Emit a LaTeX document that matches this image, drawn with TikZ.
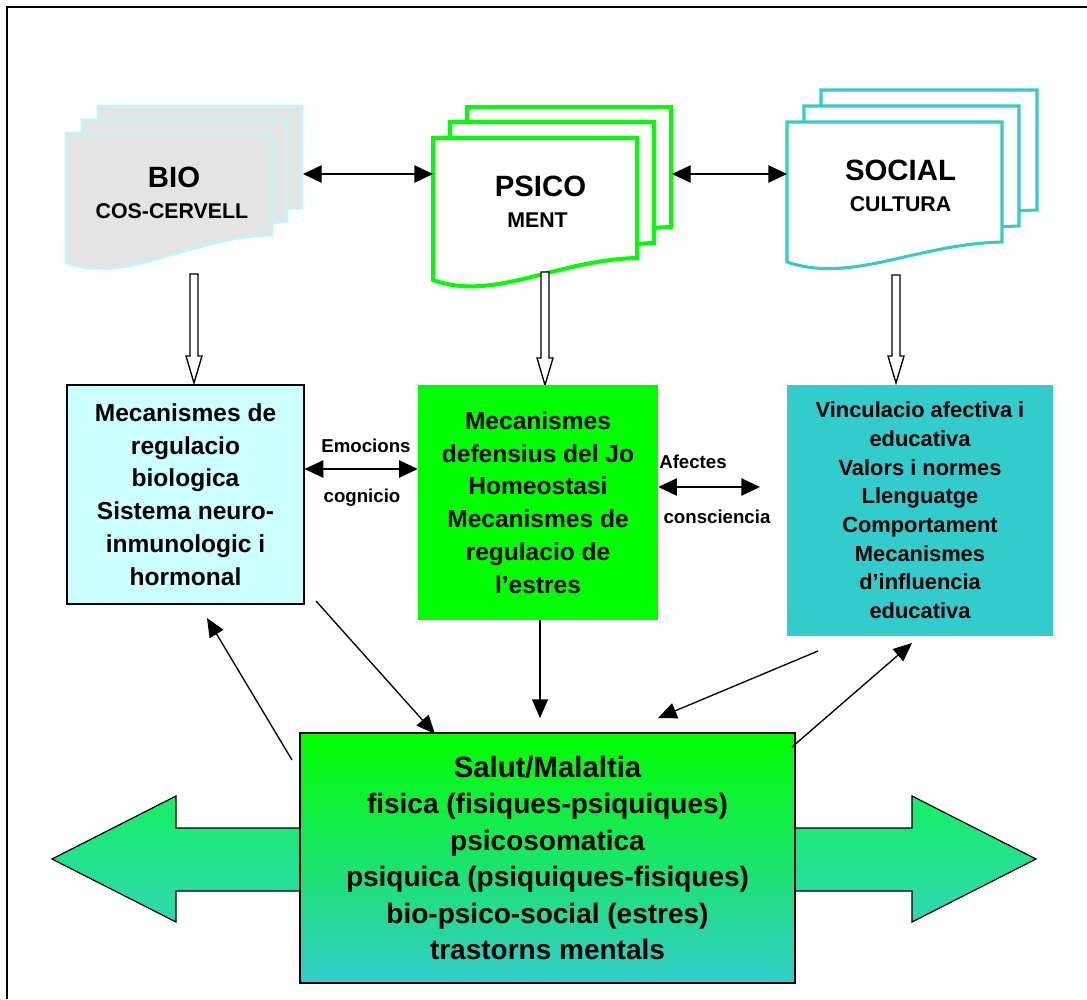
\documentclass[tikz,border=0pt]{standalone}
\usepackage{fontspec}
\setmainfont{Liberation Sans}
\usetikzlibrary{arrows.meta,shadings}

\definecolor{psigreen}{HTML}{00FF00}
\definecolor{socteal}{HTML}{33CCCC}
\definecolor{biocyan}{HTML}{CCFFFF}
\definecolor{biogray}{HTML}{E4E4E4}
\definecolor{bioedge}{HTML}{C2F6F6}
\definecolor{bandtop}{HTML}{16F064}
\definecolor{bandbot}{HTML}{2FD6B4}

% stacked "document" sheet: x0, y0 (top), x1, bottom-left y, bottom-right y, style
\newcommand\docshape[6]{%
  \filldraw[#6] (#1,#2) -- (#3,#2) -- (#3,#5)
    .. controls ({#3-0.4*(#3-#1)},{#5+2}) and ({#1+0.3*(#3-#1)},{#4+22}) .. (#1,#4) -- cycle;}

% hollow block arrow pointing down: x, top y, tip y
\newcommand\hollowdown[3]{%
  \draw[hollow] ({#1-4},#2) -- ({#1+4},#2) -- ({#1+4},{#3-27}) -- ({#1+8},{#3-27})
    -- (#1,#3) -- ({#1-8},{#3-27}) -- ({#1-4},{#3-27}) -- cycle;}

\begin{document}
\begin{tikzpicture}[
  x=0.75pt, y=-0.75pt,
  link/.style={line width=1pt, -{Triangle[length=14pt,width=12pt]}},
  bilink/.style={line width=1pt, {Triangle[length=14pt,width=13pt]}-{Triangle[length=14pt,width=13pt]}},
  hollow/.style={draw=black, fill=white, line width=1pt},
  bigtitle/.style={font=\bfseries\fontsize{22pt}{26pt}\selectfont, anchor=base, inner sep=0pt},
  subtitle/.style={font=\bfseries\fontsize{16pt}{19pt}\selectfont, anchor=base, inner sep=0pt},
  regbox/.style={inner sep=0pt, align=center, font=\bfseries\fontsize{18.4pt}{24.6pt}\selectfont},
  lbl/.style={font=\bfseries\fontsize{14pt}{16pt}\selectfont, inner sep=0pt},
]
\useasboundingbox (0,0) rectangle (1087,999);

% outer frame
\draw[line width=1.6pt] (7,999) -- (7,7) -- (1087,7);

% BIO stack
\docshape{98}{106}{302}{236}{208}{draw=bioedge, fill=biogray, line width=2pt}
\docshape{82}{120}{287}{250}{222}{draw=bioedge, fill=biogray, line width=2pt}
\docshape{66}{133}{272}{263}{235}{draw=bioedge, fill=biogray, line width=2pt}
\node[bigtitle] (bio) at (174,187) {BIO};
\node[subtitle] (biosub) at (172,218) {COS-CERVELL};

% PSICO stack
\docshape{467}{107}{671}{249}{227}{draw=psigreen, fill=white, line width=3pt}
\docshape{450}{122}{654}{265}{243}{draw=psigreen, fill=white, line width=3pt}
\docshape{433}{138}{637}{280}{258}{draw=psigreen, fill=white, line width=3pt}
\node[bigtitle] (psico) at (540.5,196) {PSICO};
\node[subtitle] (psicosub) at (537.5,227) {MENT};

% SOCIAL stack
\docshape{821}{90}{1037}{230}{210}{draw=socteal, fill=white, line width=2.3pt}
\docshape{804}{106}{1019}{246}{226}{draw=socteal, fill=white, line width=2.3pt}
\docshape{787}{122}{1002}{262}{242}{draw=socteal, fill=white, line width=2.3pt}
\node[bigtitle] (social) at (900.5,180) {SOCIAL};
\node[subtitle] (socialsub) at (900.5,211) {CULTURA};

% links between the three spheres
\coordinate (bioR) at (303,174);
\coordinate (psiL) at (433,174);
\coordinate (psiR) at (672,174);
\coordinate (socL) at (787,174);
\draw[bilink] (bioR) -- (psiL);
\draw[bilink] (psiR) -- (socL);

% hollow arrows down to the mechanisms
\hollowdown{194}{274}{383}
\hollowdown{545}{272}{385}
\hollowdown{896}{275}{383}

% mechanism boxes
\node[regbox, draw=black, line width=0.9pt, fill=biocyan,
      minimum width=177.75pt, minimum height=164.25pt] (bioreg) at (185.5,494.5)
  {Mecanismes de\\regulacio\\biologica\\Sistema neuro-\\inmunologic i\\hormonal};
\node[regbox, fill=psigreen,
      minimum width=180pt, minimum height=176.25pt] (psireg) at (538,502.5)
  {Mecanismes\\defensius del Jo\\Homeostasi\\Mecanismes de\\regulacio de\\l’estres};
\node[regbox, fill=socteal, font=\bfseries\fontsize{16.4pt}{21.5pt}\selectfont,
      minimum width=199.5pt, minimum height=188.25pt] (socreg) at (920,510.5)
  {Vinculacio afectiva i\\educativa\\Valors i normes\\Llenguatge\\Comportament\\Mecanismes\\d’influencia\\educativa};

% side links with labels
\coordinate (emoY) at (0,469);
\coordinate (affY) at (0,487);
\coordinate (affEnd) at (760,487);
\draw[bilink] (bioreg.east |- emoY) -- (psireg.west |- emoY);
\draw[bilink] (psireg.east |- affY) -- (affEnd);
\node[lbl] (emo) at (366,446) {Emocions};
\node[lbl] (cog) at (362,498) {cognicio};
\node[lbl] (afe) at (693,462) {Afectes};
\node[lbl] (con) at (717,517) {consciencia};

% broad two-way band behind the health box
\shade[top color=bandtop, bottom color=bandbot, draw=black, line width=0.9pt]
  (52,859) -- (176,796) -- (176,828) -- (912,828) -- (912,796) -- (1036,859)
  -- (912,922) -- (912,891) -- (176,891) -- (176,922) -- cycle;

% health / illness box
\node[draw=black, line width=0.9pt, top color=psigreen, bottom color=socteal,
      minimum width=371.25pt, minimum height=187.5pt, inner sep=0pt, align=center,
      font=\bfseries\fontsize{21pt}{27.4pt}\selectfont] (health) at (547.5,858)
  {{\fontsize{22pt}{27.4pt}\selectfont Salut/Malaltia}\\fisica (fisiques-psiquiques)\\psicosomatica\\psiquica (psiquiques-fisiques)\\bio-psico-social (estres)\\trastorns mentals};

% feedback links
\coordinate (bioOut) at (316,601);
\coordinate (healthA) at (435,734);
\coordinate (healthB) at (292,760);
\coordinate (bioIn) at (207,618);
\coordinate (psiIn) at (540,718);
\coordinate (socOut) at (818,651);
\coordinate (healthC) at (658,718);
\coordinate (healthD) at (792,747);
\coordinate (socIn) at (912,643);
\draw[link] (bioOut) -- (healthA);
\draw[link] (healthB) -- (bioIn);
\draw[link] (psireg.south -| psiIn) -- (psiIn);
\draw[link] (socOut) -- (healthC);
\draw[link] (healthD) -- (socIn);
\end{tikzpicture}
\end{document}
